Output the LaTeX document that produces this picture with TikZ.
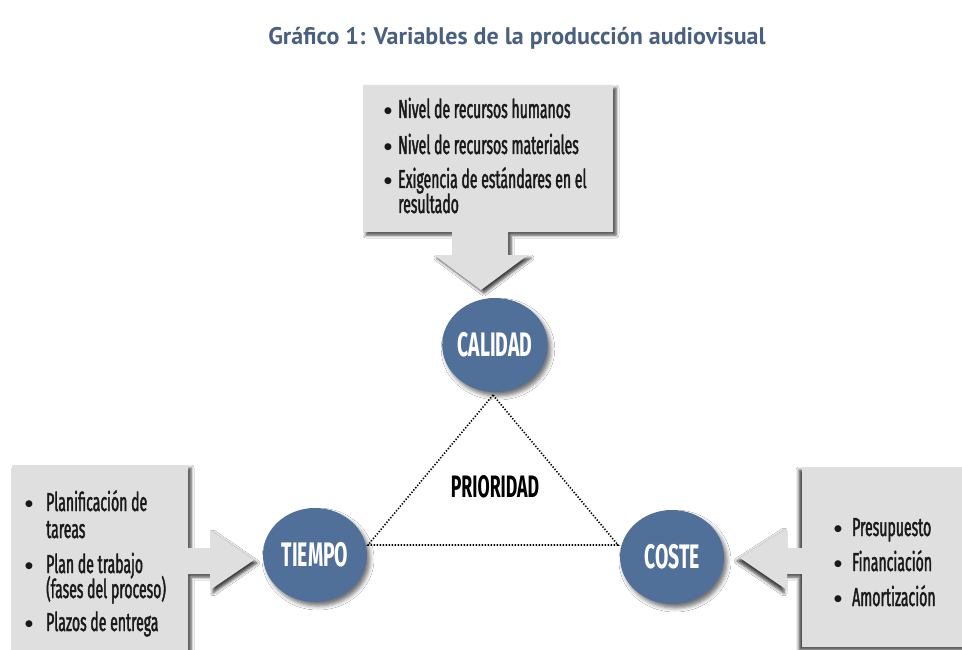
\documentclass[tikz,border=0pt]{standalone}
\usepackage{fontspec}
\setmainfont{Fira Sans}
\newfontfamily\condfont[FakeStretch=0.54,FakeBold=1.5]{Fira Sans}
\newfontfamily\circfont[FakeStretch=0.57]{Fira Sans}
\newfontfamily\titlefont{PT Sans}
\newfontfamily\symfont{DejaVu Sans}
\newcommand\bul{\raisebox{4.6pt}{\symfont\fontsize{9}{9}\selectfont ●}}
\usetikzlibrary{shapes.geometric,shadows.blur}
\definecolor{boxgray}{RGB}{223,223,223}
\definecolor{circblue}{RGB}{80,112,153}
\definecolor{titleblue}{RGB}{74,96,128}
\begin{document}
\begin{tikzpicture}[x=1pt,y=-1pt,
  panel/.style={fill=boxgray, draw=none},
  shadowR/.style={blur shadow={shadow xshift=3pt, shadow yshift=-3pt, shadow blur radius=3pt, shadow opacity=75}},
  shadowL/.style={blur shadow={shadow xshift=-3pt, shadow yshift=-3pt, shadow blur radius=3pt, shadow opacity=75}},
  factor/.style={ellipse, fill=circblue, minimum width=104pt, minimum height=94pt, inner sep=0pt,
    text=white, font=\circfont\bfseries\fontsize{34}{36}\selectfont,
    blur shadow={shadow xshift=3pt, shadow yshift=-4pt, shadow blur radius=4pt, shadow opacity=55}},
  item/.style={anchor=base west, inner sep=0pt, text=black!90,
    font=\condfont\fontsize{26}{28}\selectfont},
  link/.style={line width=1.6pt, dash pattern=on 1.3pt off 1.7pt, black}
]
\useasboundingbox (0,0) rectangle (962,650);
\fill[white] (0,0) rectangle (962,650);

% title
\node[font=\titlefont\bfseries\fontsize{24}{26}\selectfont, text=titleblue] (title) at (517,38)
  {Gráfico 1: Variables de la producción audiovisual};

% top panel with arrow down
\fill[panel, shadowR] (363,85) -- (613,85) -- (613,232) -- (508,232) -- (508,255) -- (528,255)
  -- (481,290) -- (434,255) -- (452,255) -- (452,232) -- (363,232) -- cycle;

% left panel with arrow right
\fill[panel, shadowR] (12,465) -- (188,465) -- (188,548) -- (210,548) -- (210,530) -- (254,560)
  -- (210,590) -- (210,574) -- (188,574) -- (188,670) -- (12,670) -- cycle;

% right panel with arrow left
\fill[panel, shadowL] (975,467) -- (802,467) -- (802,548) -- (787,548) -- (787,528) -- (740,558)
  -- (787,590) -- (787,574) -- (802,574) -- (802,647) -- (975,647) -- cycle;

% texts top
\node[item] (t1) at (384,118) {\makebox[14pt][l]{\bul}Nivel de recursos humanos};
\node[item] (t2) at (384,154) {\makebox[14pt][l]{\bul}Nivel de recursos materiales};
\node[item] (t3) at (384,188) {\makebox[14pt][l]{\bul}Exigencia de estándares en el};
\node[item] (t3b) at (398,213) {resultado};

% texts left
\node[item] (l1) at (25,511) {\makebox[21pt][l]{\bul}Planificación de};
\node[item] (l1b) at (46,538) {tareas};
\node[item] (l2) at (25,573) {\makebox[21pt][l]{\bul}Plan de trabajo};
\node[item] (l2b) at (46,598) {(fases del proceso)};
\node[item] (l3) at (25,631) {\makebox[21pt][l]{\bul}Plazos de entrega};

% texts right
\node[item] (r1) at (834,536) {\makebox[18pt][l]{\bul}Presupuesto};
\node[item] (r2) at (834,571) {\makebox[18pt][l]{\bul}Financiación};
\node[item] (r3) at (834,606) {\makebox[18pt][l]{\bul}Amortización};

% factors
\node[factor] (calidad) at (495,345) {CALIDAD};
\node[factor] (tiempo) at (315,555) {TIEMPO};
\node[factor] (coste) at (672,557) {COSTE};

% triangle
\coordinate (pa) at (493,395);
\coordinate (pl) at (368,545);
\coordinate (pr) at (618,545);
\draw[link] (pa) -- (pl) -- (pr) -- cycle;

\node[font=\circfont\bfseries\fontsize{31}{32}\selectfont] (prio) at (495,487) {PRIORIDAD};
\end{tikzpicture}
\end{document}
